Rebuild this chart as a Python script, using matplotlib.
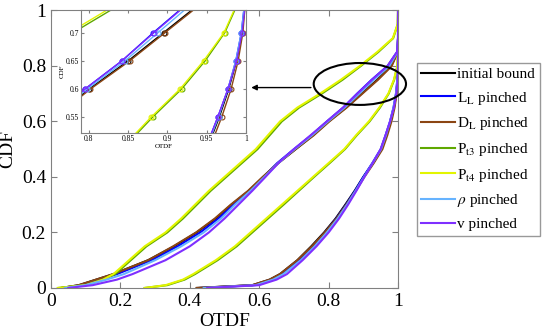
import matplotlib
matplotlib.use('Agg')
import matplotlib.pyplot as plt
from matplotlib.patches import Ellipse
from matplotlib.ticker import FormatStrFormatter

plt.rcParams['font.family'] = ['Liberation Serif', 'DejaVu Serif']
plt.rcParams['mathtext.fontset'] = 'stix'

# CDF levels (y) and the OTDF value (x) reached at each level
levels = [0, .01, .03, .05, .1, .15, .2, .25, .3, .35, .4, .45, .5, .55, .6, .65, .7, .75, .8, .85, .9, .95, 1]

# left family of curves
init_1 = [0.03, 0.08, 0.13, 0.18, 0.28, 0.355, 0.42, 0.475, 0.52, 0.57, 0.612, 0.655, 0.705, 0.755, 0.80, 0.85, 0.895, 0.94, 0.98, 0.999, 1, 1, 1]
LL_1 = [0.03, 0.09, 0.14, 0.19, 0.29, 0.365, 0.43, 0.482, 0.525, 0.572, 0.612, 0.652, 0.70, 0.75, 0.795, 0.842, 0.882, 0.924, 0.97, 0.997, 1, 1, 1]
DL_1 = [0.03, 0.08, 0.13, 0.18, 0.28, 0.352, 0.418, 0.472, 0.518, 0.568, 0.61, 0.655, 0.705, 0.757, 0.802, 0.852, 0.897, 0.942, 0.982, 0.999, 1, 1, 1]
Pt3_1 = [0.02, 0.10, 0.15, 0.185, 0.23, 0.275, 0.335, 0.38, 0.42, 0.46, 0.505, 0.55, 0.595, 0.63, 0.665, 0.715, 0.78, 0.84, 0.893, 0.943, 0.986, 0.999, 1]
Pt4_1 = [0.02, 0.10, 0.15, 0.18, 0.225, 0.27, 0.33, 0.375, 0.415, 0.455, 0.50, 0.545, 0.59, 0.625, 0.66, 0.71, 0.775, 0.835, 0.89, 0.94, 0.985, 0.999, 1]
rho_1 = [0.04, 0.10, 0.16, 0.21, 0.30, 0.375, 0.44, 0.49, 0.53, 0.575, 0.615, 0.655, 0.702, 0.752, 0.798, 0.846, 0.888, 0.93, 0.975, 0.998, 1, 1, 1]
v_1 = [0.05, 0.12, 0.19, 0.235, 0.33, 0.40, 0.455, 0.50, 0.54, 0.58, 0.618, 0.655, 0.70, 0.748, 0.795, 0.842, 0.883, 0.925, 0.97, 0.997, 1, 1, 1]

# right family of curves
init_2 = [0.42, 0.58, 0.63, 0.66, 0.71, 0.75, 0.787, 0.82, 0.848, 0.875, 0.90, 0.928, 0.952, 0.966, 0.978, 0.988, 0.995, 0.9985, 1, 1, 1, 1, 1]
LL_2 = [0.43, 0.585, 0.635, 0.665, 0.715, 0.755, 0.79, 0.822, 0.85, 0.876, 0.90, 0.926, 0.95, 0.964, 0.977, 0.987, 0.994, 0.998, 1, 1, 1, 1, 1]
DL_2 = [0.42, 0.58, 0.63, 0.66, 0.71, 0.752, 0.789, 0.823, 0.851, 0.878, 0.903, 0.93, 0.955, 0.969, 0.981, 0.99, 0.996, 0.999, 1, 1, 1, 1, 1]
Pt3_2 = [0.27, 0.335, 0.385, 0.415, 0.48, 0.535, 0.58, 0.625, 0.67, 0.714, 0.758, 0.803, 0.847, 0.881, 0.918, 0.948, 0.973, 0.989, 0.998, 1, 1, 1, 1]
Pt4_2 = [0.27, 0.33, 0.38, 0.41, 0.475, 0.53, 0.575, 0.62, 0.665, 0.71, 0.755, 0.80, 0.845, 0.879, 0.916, 0.946, 0.972, 0.988, 0.998, 1, 1, 1, 1]
rho_2 = [0.44, 0.59, 0.64, 0.67, 0.72, 0.76, 0.795, 0.826, 0.853, 0.878, 0.902, 0.927, 0.951, 0.965, 0.977, 0.987, 0.994, 0.998, 1, 1, 1, 1, 1]
v_2 = [0.45, 0.60, 0.65, 0.68, 0.725, 0.765, 0.80, 0.83, 0.856, 0.88, 0.903, 0.927, 0.95, 0.964, 0.977, 0.988, 0.995, 0.999, 1, 1, 1, 1, 1]

labels = ['initial bound', r'L$_{\rm L}$ pinched', r'D$_{\rm L}$ pinched', r'P$_{\rm t3}$ pinched',
          r'P$_{\rm t4}$ pinched', r'$\rho$ pinched', 'v pinched']
colors = ['k', '#0000ff', '#8b4513', '#5fa800', '#e2f500', '#66b3ff', '#7f2fff']
curves_1 = [init_1, LL_1, DL_1, Pt3_1, Pt4_1, rho_1, v_1]
curves_2 = [init_2, LL_2, DL_2, Pt3_2, Pt4_2, rho_2, v_2]

fig = plt.figure(figsize=(5.5, 3.36), dpi=100)
ax = fig.add_axes([0.0927, 0.143, 0.631, 0.826])

for c1, c2, col, lab in zip(curves_1, curves_2, colors, labels):
    ax.plot(c1, levels, color=col, lw=1.5, label=lab)
    ax.plot(c2, levels, color=col, lw=1.5)

ax.set_xlim(0, 1)
ax.set_ylim(0, 1)
ax.set_xticks([0, 0.2, 0.4, 0.6, 0.8, 1])
ax.set_yticks([0, 0.2, 0.4, 0.6, 0.8, 1])
ax.xaxis.set_major_formatter(FormatStrFormatter('%g'))
ax.yaxis.set_major_formatter(FormatStrFormatter('%g'))
ax.tick_params(direction='in', top=True, right=True, labelsize=14, length=4, color='#808080')
for s in ax.spines.values():
    s.set_color('#808080')
    s.set_linewidth(0.8)
ax.set_xlabel('OTDF', fontsize=14, labelpad=2)
ax.set_ylabel('CDF', fontsize=14, labelpad=4)

# zoom marker
ell = Ellipse((0.89, 0.735), 0.266, 0.151, fill=False, ec='k', lw=1.5, clip_on=False, zorder=5)
ax.add_patch(ell)
ax.annotate('', xy=(0.569, 0.722), xytext=(0.757, 0.722),
            arrowprops=dict(arrowstyle='-|>', color='k', lw=1, mutation_scale=8))

# inset
ins = fig.add_axes([0.1473, 0.604, 0.3, 0.366], facecolor='white')
for c1, c2, col in zip(curves_1, curves_2, colors):
    ins.plot(c1, levels, color=col, lw=1.0, marker='o', ms=3.5, mfc='none', mew=0.8)
    ins.plot(c2, levels, color=col, lw=1.0, marker='o', ms=3.5, mfc='none', mew=0.8)
ins.set_xlim(0.79, 1.0)
ins.set_ylim(0.522, 0.74)
ins.set_xticks([0.8, 0.85, 0.9, 0.95, 1])
ins.set_yticks([0.55, 0.6, 0.65, 0.7])
ins.xaxis.set_major_formatter(FormatStrFormatter('%g'))
ins.yaxis.set_major_formatter(FormatStrFormatter('%g'))
ins.tick_params(direction='in', top=True, right=True, labelsize=5.5, length=2, pad=1.5, color='#808080')
for s in ins.spines.values():
    s.set_color('#808080')
    s.set_linewidth(0.8)
ins.set_xlabel('OTDF', fontsize=5, labelpad=0.5)
ins.set_ylabel('CDF', fontsize=5, labelpad=1)

fig.legend(loc='upper left', bbox_to_anchor=(0.758, 0.8125), fontsize=11, frameon=True,
           fancybox=False, edgecolor='#808080', handlelength=2.2, handletextpad=0.15,
           labelspacing=0.56, borderpad=0.3, borderaxespad=0)

fig.savefig('out.png', dpi=100)
